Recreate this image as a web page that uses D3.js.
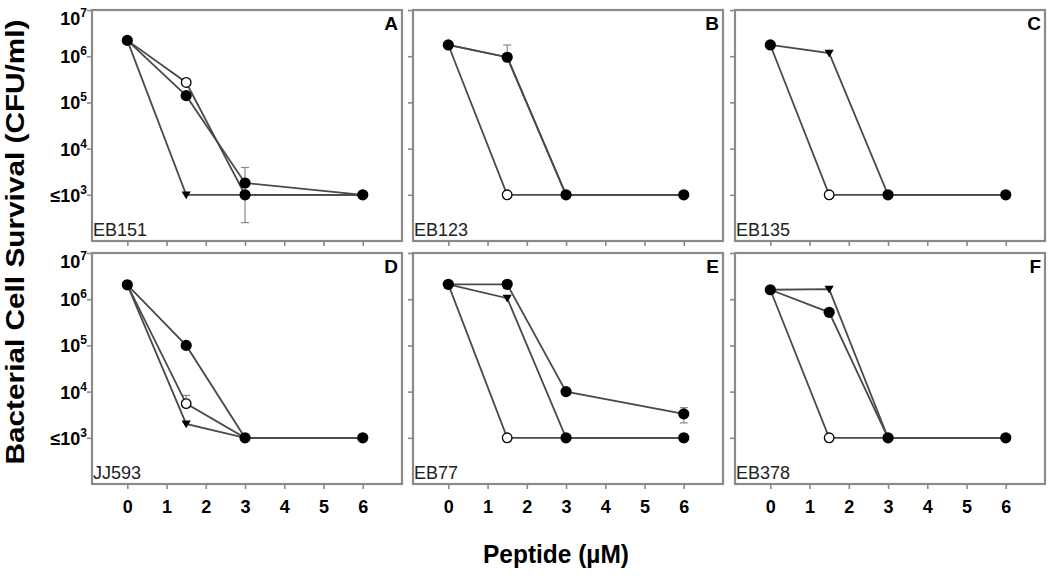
<!DOCTYPE html>
<html><head><meta charset="utf-8">
<script src="https://cdn.jsdelivr.net/npm/d3@7"></script>
<style>
html,body{margin:0;padding:0;background:#fff;}
text{font-family:"Liberation Sans",Arial,sans-serif;}
</style></head>
<body><svg id="c" width="1050" height="582"></svg>
<script>
// ---- data ----
const concentrations = [0, 1.5, 3, 6];
const panelLetters = ["A", "B", "C", "D", "E", "F"];
const strainNames = ["EB151", "EB123", "EB135", "JJ593", "EB77", "EB378"];
const xTickValues = [0, 1, 2, 3, 4, 5, 6];
const yTickExponents = [3, 4, 5, 6, 7];
const detectionLimit = 1e3;

// series: open circles, inverted triangles, filled circles (null = not shown)
const openSeries = [
  [2.2e6, 2.7e5, 1e3, 1e3],
  [1.75e6, 1e3, 1e3, 1e3],
  [1.75e6, 1e3, 1e3, 1e3],
  [2.05e6, 5.5e3, 1e3, 1e3],
  [2.1e6, 1e3, 1e3, 1e3],
  [1.6e6, 1e3, 1e3, 1e3]
];
const triangleSeries = [
  [2.2e6, 1e3, 1e3, 1e3],
  [1.75e6, 9.5e5, 1e3, 1e3],
  [1.75e6, 1.17e6, 1e3, 1e3],
  [2.05e6, 2e3, 1e3, 1e3],
  [2.1e6, 1.05e6, 1e3, 1e3],
  [1.6e6, 1.65e6, 1e3, 1e3]
];
const filledSeries = [
  [2.2e6, 1.4e5, 1.8e3, 1e3],
  [1.75e6, 9.5e5, 1e3, 1e3],
  null,
  [2.05e6, 1e5, 1e3, 1e3],
  [2.1e6, 2.1e6, 1e4, 3.3e3],
  [1.6e6, 5.2e5, 1e3, 1e3]
];
// error bars: panel index, concentration, centre, low end, high end
const errPanel = [0, 1, 3, 4];
const errConc = [3, 1.5, 1.5, 6];
const errCentre = [1.8e3, 9.5e5, 5.5e3, 3.3e3];
const errLow = [2.5e2, null, null, 2.1e3];
const errHigh = [3.9e3, 1.75e6, 8.3e3, 4.5e3];

// ---- layout ----
const svg = d3.select("#c");
const colLeft = [92, 413, 735];
const panelW = 310;
const rowTop = [10, 253];
const panelH = 231;
const frameColor = "#8a8a8a";
const lineColor = "#4a4a4a";

const seriesDefs = [
  {vals: openSeries, sym: "open"},
  {vals: triangleSeries, sym: "tri"},
  {vals: filledSeries, sym: "filled"}
];

function drawSymbol(g, sym, cx, cy) {
  if (sym === "tri") {
    g.append("path")
      .attr("d", `M${cx-4.6},${cy-3.4}L${cx+4.6},${cy-3.4}L${cx},${cy+4.4}Z`)
      .attr("fill", "#000");
  } else {
    g.append("circle").attr("cx", cx).attr("cy", cy).attr("r", sym === "open" ? 4.8 : 5.6)
      .attr("fill", sym === "open" ? "#fff" : "#000")
      .attr("stroke", "#000").attr("stroke-width", sym === "open" ? 1.3 : 0);
  }
}

panelLetters.forEach((letter, p) => {
  const col = p % 3, row = Math.floor(p / 3);
  const x0 = colLeft[col], y0 = rowTop[row];
  const x = d3.scaleLinear().domain([-0.9, 7.0]).range([x0, x0 + panelW]);
  const y = d3.scaleLog().domain([1e2, 1e7]).range([y0 + panelH, y0]);
  const g = svg.append("g");

  // frame
  g.append("rect").attr("x", x0).attr("y", y0).attr("width", panelW).attr("height", panelH)
    .attr("fill", "none").attr("stroke", frameColor).attr("stroke-width", 2.2);

  // axes
  const xAxis = d3.axisBottom(x).tickValues(xTickValues).tickSize(5)
    .tickFormat(row === 1 ? d3.format("d") : () => "");
  const gx = g.append("g").attr("transform", `translate(0,${y0 + panelH})`).call(xAxis);
  gx.select(".domain").remove();
  gx.selectAll(".tick line").attr("stroke", frameColor).attr("stroke-width", 1.6);
  gx.selectAll(".tick text").attr("font-size", 18).attr("font-weight", "bold")
    .attr("fill", "#000").attr("dy", "1.15em")
    .style("font-family", '"Liberation Sans",Arial,sans-serif');

  const yAxis = d3.axisLeft(y).tickValues(yTickExponents.map(e => Math.pow(10, e)))
    .tickSize(5).tickFormat(() => "");
  const gy = g.append("g").attr("transform", `translate(${x0},0)`).call(yAxis);
  gy.select(".domain").remove();
  gy.selectAll(".tick line").attr("stroke", frameColor).attr("stroke-width", 1.6);

  if (col === 0) {
    yTickExponents.forEach(e => {
      const v = Math.pow(10, e);
      const baseY = Math.max(y(v) + 7, y0 + 15);
      const t = g.append("text").attr("x", x0 - 5).attr("y", baseY)
        .attr("text-anchor", "end").attr("font-weight", "bold").attr("font-size", 18);
      t.append("tspan").text((v === detectionLimit ? "≤" : "") + "10");
      t.append("tspan").attr("font-size", 12).attr("dy", -8).text(e);
    });
  }

  // panel letter and strain label
  g.append("text").attr("x", x0 + panelW - 4).attr("y", y0 + 20).attr("text-anchor", "end")
    .attr("font-weight", "bold").attr("font-size", 19).text(letter);
  g.append("text").attr("x", x0 + 1).attr("y", y0 + panelH - 5)
    .attr("font-size", 18).attr("fill", "#222").text(strainNames[p]);

  // error bars
  errPanel.forEach((ep, i) => {
    if (ep !== p) return;
    const cx = x(errConc[i]);
    const top = y(errHigh[i]);
    const bot = errLow[i] == null ? y(errCentre[i]) : y(errLow[i]);
    g.append("line").attr("x1", cx).attr("x2", cx).attr("y1", top).attr("y2", bot)
      .attr("stroke", "#8a8a8a").attr("stroke-width", 1.2);
    g.append("line").attr("x1", cx - 4).attr("x2", cx + 4).attr("y1", top).attr("y2", top)
      .attr("stroke", "#8a8a8a").attr("stroke-width", 1.2);
    if (errLow[i] != null)
      g.append("line").attr("x1", cx - 4).attr("x2", cx + 4).attr("y1", bot).attr("y2", bot)
        .attr("stroke", "#8a8a8a").attr("stroke-width", 1.2);
  });

  // lines
  const line = d3.line().x(d => x(d[0])).y(d => y(d[1]));
  seriesDefs.forEach(s => {
    const vals = s.vals[p];
    if (!vals) return;
    g.append("path").datum(concentrations.map((c, i) => [c, vals[i]]))
      .attr("d", line).attr("fill", "none").attr("stroke", lineColor).attr("stroke-width", 1.8);
  });

  // markers: points shared by several series drawn as filled circles
  const counts = new Map();
  seriesDefs.forEach(s => {
    const vals = s.vals[p];
    if (!vals) return;
    concentrations.forEach((c, i) => {
      const k = c + "|" + vals[i];
      counts.set(k, (counts.get(k) || 0) + 1);
    });
  });
  const drawn = new Set();
  seriesDefs.forEach(s => {
    const vals = s.vals[p];
    if (!vals) return;
    concentrations.forEach((c, i) => {
      const k = c + "|" + vals[i];
      if (drawn.has(k)) return;
      drawn.add(k);
      const sym = counts.get(k) > 1 ? "filled" : s.sym;
      drawSymbol(g, sym, x(c), y(vals[i]));
    });
  });
});

// axis titles
svg.append("text").attr("transform", "translate(24,242) rotate(-90)")
  .attr("text-anchor", "middle").attr("font-weight", "bold").attr("font-size", 26)
  .attr("textLength", 445).attr("lengthAdjust", "spacingAndGlyphs")
  .text("Bacterial Cell Survival (CFU/ml)");
svg.append("text").attr("x", 556).attr("y", 563).attr("text-anchor", "middle")
  .attr("font-weight", "bold").attr("font-size", 25).attr("textLength", 146)
  .attr("lengthAdjust", "spacingAndGlyphs").text("Peptide (µM)");
</script></body></html>
